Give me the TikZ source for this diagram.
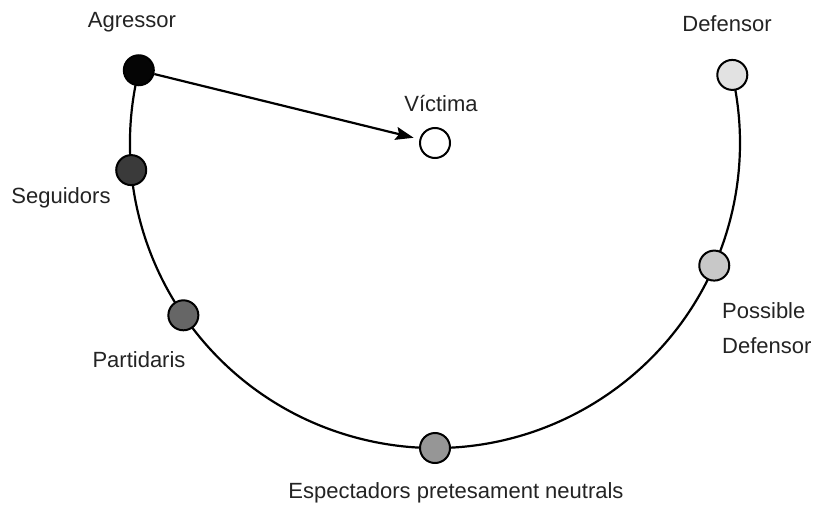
\documentclass[tikz,border=0pt]{standalone}
\usepackage{fontspec}
\setmainfont{Liberation Sans}
\usetikzlibrary{arrows.meta,calc}
\definecolor{txt}{RGB}{35,35,35}
\definecolor{cAg}{RGB}{5,5,5}
\definecolor{cSe}{RGB}{58,58,58}
\definecolor{cPa}{RGB}{102,102,102}
\definecolor{cEs}{RGB}{150,150,150}
\definecolor{cPD}{RGB}{200,200,200}
\definecolor{cDe}{RGB}{226,226,226}
\tikzset{
  role/.style={circle, draw=black, line width=2pt, minimum size=30pt, inner sep=0pt},
  lbl/.style={text=txt, inner sep=0pt, font=\fontsize{22}{35}\selectfont},
  ring/.style={draw=black, line width=2.2pt},
  push/.style={draw=black, line width=2.2pt, -{Stealth[length=18pt,width=13pt,inset=3pt]}, shorten >=6pt}
}
\begin{document}
\begin{tikzpicture}[x=1pt,y=1pt]
\useasboundingbox (0,0) rectangle (813,504);
\coordinate (C) at (435,361);
\draw[ring] ($(C)+(166.2:305)$) arc[start angle=166.2, end angle=372.9, radius=305];
\node[role, fill=cAg] (ag) at ($(C)+(166.2:305)$) {};
\node[role, fill=cSe] (se) at ($(C)+(185.1:305)$) {};
\node[role, fill=cPa] (pa) at ($(C)+(214.4:305)$) {};
\node[role, fill=cEs] (es) at ($(C)+(270:305)$) {};
\node[role, fill=cPD] (pd) at ($(C)+(336.3:305)$) {};
\node[role, fill=cDe] (de) at ($(C)+(372.9:305)$) {};
\node[role, fill=white] (vi) at (435,361) {};
\draw[push] (ag) -- (vi);
\node[lbl, anchor=base] (tag) at (132,476) {Agressor};
\node[lbl, anchor=base] (tvi) at (441,392) {Víctima};
\node[lbl, anchor=base] (tde) at (727,472) {Defensor};
\node[lbl, anchor=base] (tse) at (61,301) {Seguidors};
\node[lbl, anchor=base] (tpa) at (139,137) {Partidaris};
\node[lbl, anchor=base west, align=left] (tpd) at (722,151) {Possible\\Defensor};
\node[lbl, anchor=base] (tes) at (456,6) {Espectadors pretesament neutrals};
\end{tikzpicture}
\end{document}
